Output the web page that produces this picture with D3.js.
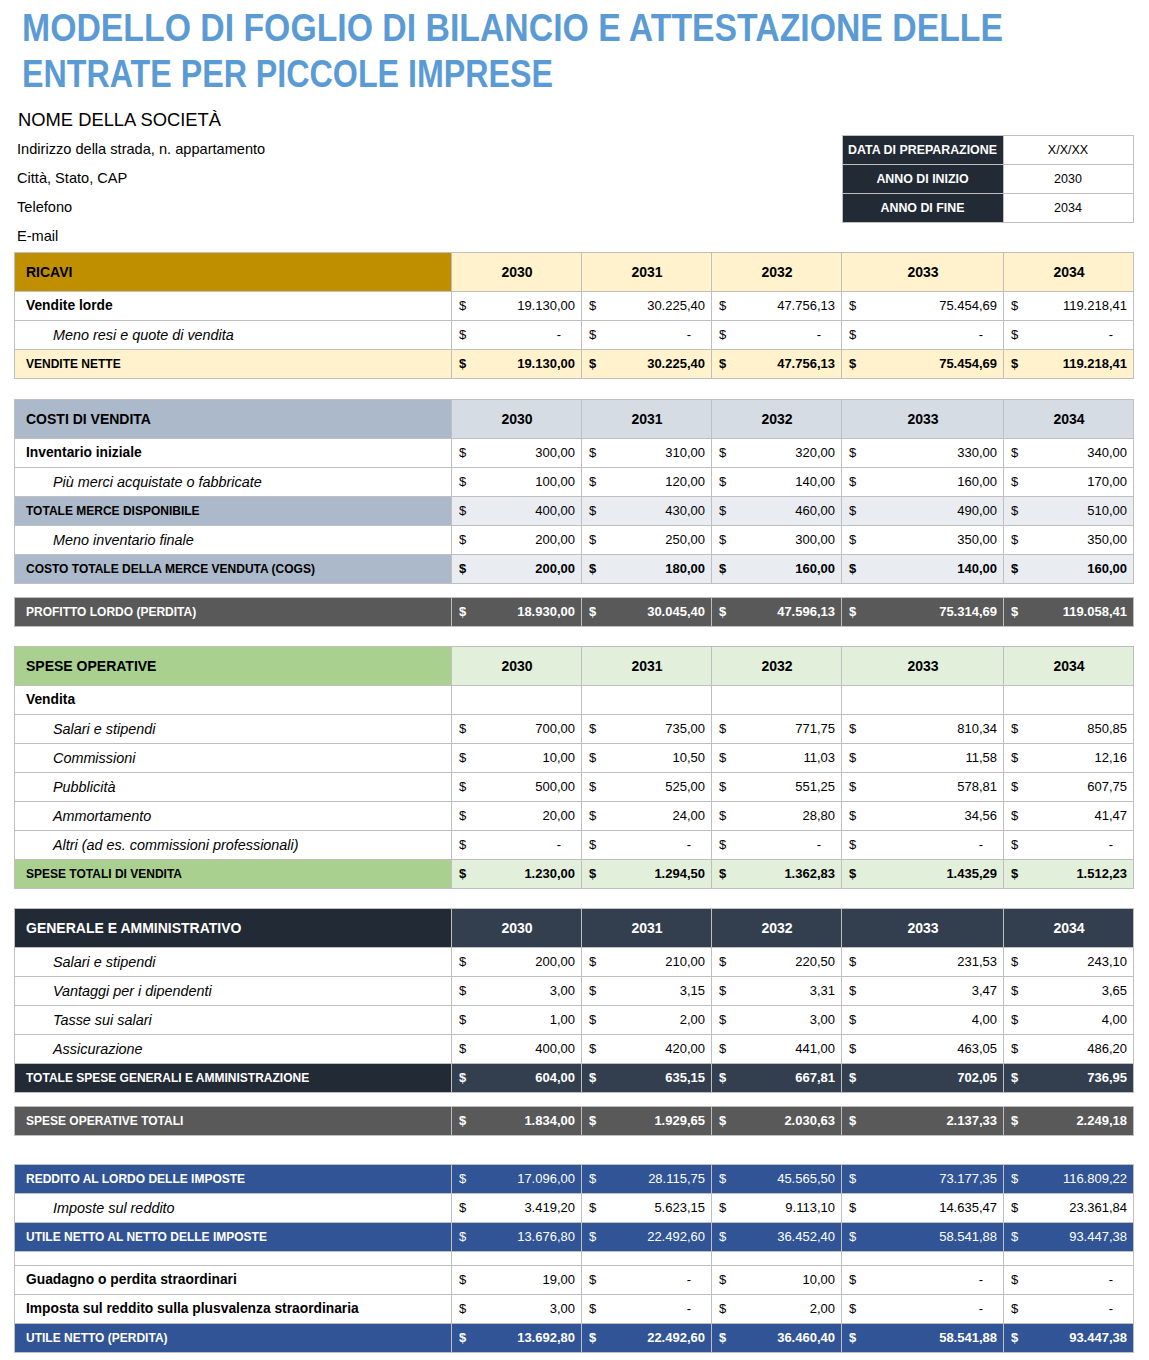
<!DOCTYPE html>
<html><head><meta charset="utf-8">
<script src="https://cdn.jsdelivr.net/npm/d3@7"></script>
<style>
body{margin:0;background:#fff}
svg{display:block}
text{font-family:"Century Gothic","Liberation Sans",Arial,sans-serif}
</style>
</head><body>
<svg id="c" width="1149" height="1360"></svg>
<script>
// ---------------- DATA ----------------
const titleLines = ["MODELLO DI FOGLIO DI BILANCIO E ATTESTAZIONE DELLE", "ENTRATE PER PICCOLE IMPRESE"];
const companyName = "NOME DELLA SOCIETÀ";
const companyInfo = ["Indirizzo della strada, n. appartamento", "Città, Stato, CAP", "Telefono", "E-mail"];
const infoLabels = ["DATA DI PREPARAZIONE", "ANNO DI INIZIO", "ANNO DI FINE"];
const infoValues = ["X/X/XX", "2030", "2034"];

const years = ["2030", "2031", "2032", "2033", "2034"];

const grossSales   = [19130.00, 30225.40, 47756.13, 75454.69, 119218.41];
const returnsAllow = [0, 0, 0, 0, 0];
const netSales     = [19130.00, 30225.40, 47756.13, 75454.69, 119218.41];

const beginInv     = [300, 310, 320, 330, 340];
const purchases    = [100, 120, 140, 160, 170];
const totalAvail   = [400, 430, 460, 490, 510];
const endInv       = [200, 250, 300, 350, 350];
const cogs         = [200, 180, 160, 140, 160];

const grossProfit  = [18930.00, 30045.40, 47596.13, 75314.69, 119058.41];

const sellSalaries = [700.00, 735.00, 771.75, 810.34, 850.85];
const commissions  = [10.00, 10.50, 11.03, 11.58, 12.16];
const advertising  = [500.00, 525.00, 551.25, 578.81, 607.75];
const depreciation = [20.00, 24.00, 28.80, 34.56, 41.47];
const otherSelling = [0, 0, 0, 0, 0];
const totalSelling = [1230.00, 1294.50, 1362.83, 1435.29, 1512.23];

const gaSalaries   = [200.00, 210.00, 220.50, 231.53, 243.10];
const benefits     = [3.00, 3.15, 3.31, 3.47, 3.65];
const payrollTax   = [1.00, 2.00, 3.00, 4.00, 4.00];
const insurance    = [400.00, 420.00, 441.00, 463.05, 486.20];
const totalGA      = [604.00, 635.15, 667.81, 702.05, 736.95];

const totalOpex    = [1834.00, 1929.65, 2030.63, 2137.33, 2249.18];

const preTaxIncome = [17096.00, 28115.75, 45565.50, 73177.35, 116809.22];
const incomeTax    = [3419.20, 5623.15, 9113.10, 14635.47, 23361.84];
const afterTax     = [13676.80, 22492.60, 36452.40, 58541.88, 93447.38];
const extraGain    = [19.00, 0, 10.00, 0, 0];
const extraGainTax = [3.00, 0, 2.00, 0, 0];
const netIncome    = [13692.80, 22492.60, 36460.40, 58541.88, 93447.38];

// table structure (label, values, row kind)
const blocks = [
  {theme: "gold", header: "RICAVI", rows: [
    ["Vendite lorde", grossSales, "item"],
    ["Meno resi e quote di vendita", returnsAllow, "indent"],
    ["VENDITE NETTE", netSales, "total"]]},
  {theme: "slate", header: "COSTI DI VENDITA", rows: [
    ["Inventario iniziale", beginInv, "item"],
    ["Più merci acquistate o fabbricate", purchases, "indent"],
    ["TOTALE MERCE DISPONIBILE", totalAvail, "subtotal"],
    ["Meno inventario finale", endInv, "indent"],
    ["COSTO TOTALE DELLA MERCE VENDUTA (COGS)", cogs, "total"]]},
  {theme: "bar", rows: [["PROFITTO LORDO (PERDITA)", grossProfit, "bar"]]},
  {theme: "green", header: "SPESE OPERATIVE", rows: [
    ["Vendita", null, "item"],
    ["Salari e stipendi", sellSalaries, "indent"],
    ["Commissioni", commissions, "indent"],
    ["Pubblicità", advertising, "indent"],
    ["Ammortamento", depreciation, "indent"],
    ["Altri (ad es. commissioni professionali)", otherSelling, "indent"],
    ["SPESE TOTALI DI VENDITA", totalSelling, "total"]]},
  {theme: "navy", header: "GENERALE E AMMINISTRATIVO", rows: [
    ["Salari e stipendi", gaSalaries, "indent"],
    ["Vantaggi per i dipendenti", benefits, "indent"],
    ["Tasse sui salari", payrollTax, "indent"],
    ["Assicurazione", insurance, "indent"],
    ["TOTALE SPESE GENERALI E AMMINISTRAZIONE", totalGA, "total"]]},
  {theme: "bar", rows: [["SPESE OPERATIVE TOTALI", totalOpex, "bar"]]},
  {theme: "blue", rows: [
    ["REDDITO AL LORDO DELLE IMPOSTE", preTaxIncome, "blue"],
    ["Imposte sul reddito", incomeTax, "indent"],
    ["UTILE NETTO AL NETTO DELLE IMPOSTE", afterTax, "blue"],
    ["", null, "blank"],
    ["Guadagno o perdita straordinari", extraGain, "item"],
    ["Imposta sul reddito sulla plusvalenza straordinaria", extraGainTax, "item"],
    ["UTILE NETTO (PERDITA)", netIncome, "blueTotal"]]}
];

// ---------------- STYLE / LAYOUT ----------------
const themes = {
  gold:  {head: "#bf8f00", yearHead: "#fff2cc", totLabel: "#fff2cc", totVals: "#fff2cc", subVals: "#fff2cc", text: "#000"},
  slate: {head: "#acb9ca", yearHead: "#d6dce4", totLabel: "#acb9ca", totVals: "#e9edf2", subVals: "#e9edf2", text: "#000"},
  green: {head: "#a9d08e", yearHead: "#e2efda", totLabel: "#a9d08e", totVals: "#e2efda", subVals: "#e2efda", text: "#000"},
  navy:  {head: "#222a35", yearHead: "#333f4f", totLabel: "#222a35", totVals: "#333f4f", subVals: "#333f4f", text: "#fff"},
  bar:   {}, blue: {}
};
const GRID = "#bfbfbf";
const BAR = "#595959";
const BLUE = "#305496";
const gaps = [252, 21, 14, 20, 20, 14, 29];
const HEAD_H = 39, ROW_H = 29, BLANK_H = 14;

const svg = d3.select("#c");
const tableL = 14, labelR = 451;
const edges = [451, 581, 711, 841, 1003, 1133];
const xL = d3.scaleOrdinal().domain(years).range(edges.slice(0, 5));
const xR = d3.scaleOrdinal().domain(years).range(edges.slice(1));

const loc = d3.formatLocale({decimal: ",", thousands: ".", grouping: [3], currency: ["$", ""]});
const fmt = loc.format(",.2f");

function cell(x0, y0, x1, y1, fill) {
  svg.append("rect").attr("x", x0 + 0.5).attr("y", y0 + 0.5)
    .attr("width", x1 - x0).attr("height", y1 - y0)
    .attr("fill", fill).attr("stroke", GRID).attr("stroke-width", 1)
    .attr("shape-rendering", "crispEdges");
}
function txt(x, y, s, o) {
  return svg.append("text").attr("x", x).attr("y", y).text(s)
    .attr("dominant-baseline", "central")
    .attr("font-size", o.size || 13)
    .attr("font-weight", o.weight || "normal")
    .attr("font-style", o.style || "normal")
    .attr("fill", o.fill || "#000")
    .attr("text-anchor", o.anchor || "start");
}

// ---------------- TITLE & HEADER INFO ----------------
svg.append("text").attr("x", 22).attr("y", 41).text(titleLines[0])
  .attr("font-size", 38).attr("font-weight", "bold").attr("fill", "#5b9bd5")
  .attr("textLength", 981).attr("lengthAdjust", "spacingAndGlyphs");
svg.append("text").attr("x", 22).attr("y", 87).text(titleLines[1])
  .attr("font-size", 38).attr("font-weight", "bold").attr("fill", "#5b9bd5")
  .attr("textLength", 531).attr("lengthAdjust", "spacingAndGlyphs");

svg.append("text").attr("x", 18).attr("y", 126).text(companyName)
  .attr("font-size", 19).attr("fill", "#000")
  .attr("textLength", 203).attr("lengthAdjust", "spacingAndGlyphs");

companyInfo.forEach((s, i) => txt(17, 149 + i * 29, s, {size: 14.6}));

infoLabels.forEach((s, i) => {
  const y0 = 135 + i * 29;
  cell(842, y0, 1003, y0 + 29, "#222a35");
  cell(1003, y0, 1133, y0 + 29, "#fff");
  txt(922.5, y0 + 14.5, s, {size: 12.4, weight: "bold", fill: "#fff", anchor: "middle"});
  txt(1068, y0 + 14.5, infoValues[i], {size: 12.5, anchor: "middle"});
});

// ---------------- TABLE ----------------
let y = 0;
blocks.forEach((b, bi) => {
  y = bi === 0 ? gaps[0] : y + gaps[bi];
  const th = themes[b.theme];
  if (b.header) {
    cell(tableL, y, labelR, y + HEAD_H, th.head);
    txt(26, y + HEAD_H / 2, b.header, {size: 14, weight: "bold", fill: th.text});
    years.forEach(yr => {
      cell(xL(yr), y, xR(yr), y + HEAD_H, th.yearHead);
      txt((xL(yr) + xR(yr)) / 2 + 1, y + HEAD_H / 2, yr, {size: 14, weight: "bold", fill: th.text, anchor: "middle"});
    });
    y += HEAD_H;
  }
  b.rows.forEach(([label, vals, kind]) => {
    const h = kind === "blank" ? BLANK_H : ROW_H;
    let labelFill = "#fff", valFill = "#fff", textFill = "#000", labelOpt, valWeight = "normal";
    switch (kind) {
      case "item":   labelOpt = {size: 13.8, weight: "bold"}; break;
      case "indent": labelOpt = {size: 14.4, style: "italic"}; break;
      case "total":  labelFill = th.totLabel; valFill = th.totVals; textFill = th.text;
                     labelOpt = {size: 12, weight: "bold"}; valWeight = "bold"; break;
      case "subtotal": labelFill = th.totLabel; valFill = th.subVals; textFill = th.text;
                     labelOpt = {size: 12, weight: "bold"}; break;
      case "bar":    labelFill = BAR; valFill = BAR; textFill = "#fff";
                     labelOpt = {size: 12, weight: "bold"}; valWeight = "bold"; break;
      case "blue":   labelFill = BLUE; valFill = BLUE; textFill = "#fff";
                     labelOpt = {size: 12, weight: "bold"}; break;
      case "blueTotal": labelFill = BLUE; valFill = BLUE; textFill = "#fff";
                     labelOpt = {size: 12, weight: "bold"}; valWeight = "bold"; break;
      default: labelOpt = {size: 13};
    }
    cell(tableL, y, labelR, y + h, labelFill);
    years.forEach(yr => cell(xL(yr), y, xR(yr), y + h, valFill));
    if (label) {
      const lx = kind === "indent" ? 53 : 26;
      txt(lx, y + h / 2, label, Object.assign({}, labelOpt, {fill: textFill}));
    }
    if (vals) {
      years.forEach((yr, i) => {
        const cy = y + h / 2;
        txt(xL(yr) + 8, cy, "$", {size: 13, weight: valWeight, fill: textFill});
        const v = vals[i];
        if (v === 0) txt(xR(yr) - 20, cy, "-", {size: 13, weight: valWeight, fill: textFill, anchor: "end"});
        else txt(xR(yr) - 6, cy, fmt(v), {size: 13, weight: valWeight, fill: textFill, anchor: "end"});
      });
    }
    y += h;
  });
});
</script>
</body></html>
